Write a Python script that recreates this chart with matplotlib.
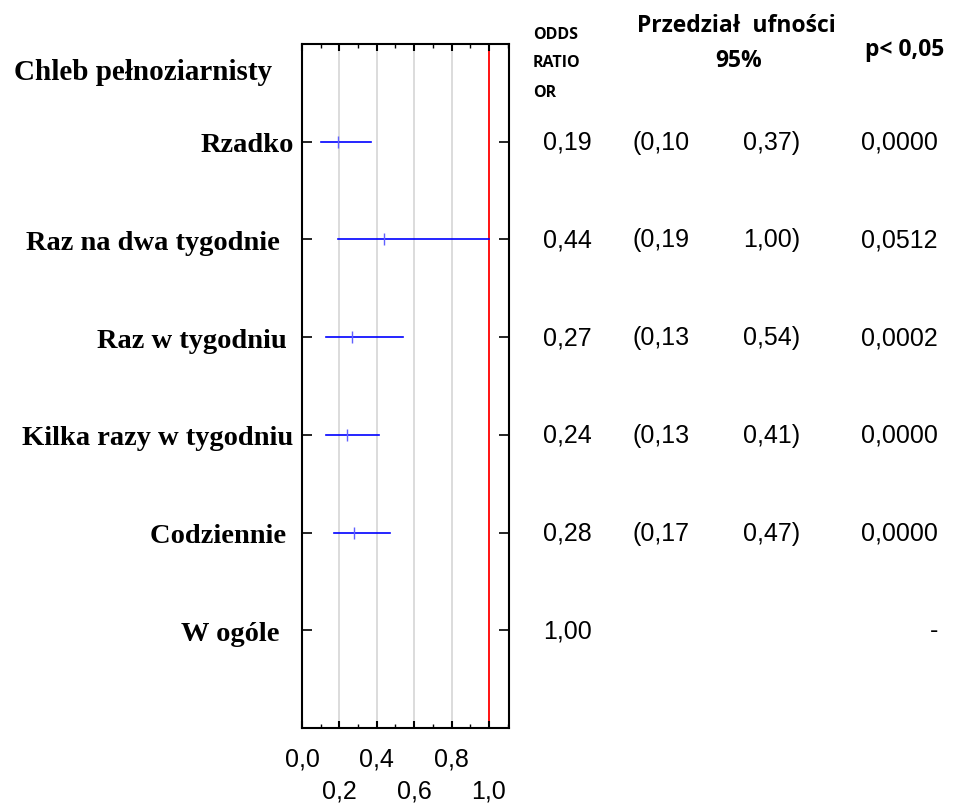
"""Forest plot: odds ratios for wholegrain bread consumption."""

import matplotlib
matplotlib.use("Agg")
import matplotlib.pyplot as plt

# data
categories = ["Rzadko", "Raz na dwa tygodnie  ", "Raz w tygodniu ",
              "Kilka razy w tygodniu", "Codziennie ", "W ogóle  "]
odds = [0.19, 0.44, 0.27, 0.24, 0.28, 1.00]
ci_low = [0.10, 0.19, 0.13, 0.13, 0.17, None]
ci_high = [0.37, 1.00, 0.54, 0.41, 0.47, None]
p_vals = ["0,0000", "0,0512", "0,0002", "0,0000", "0,0000", "-"]
xticks_top = [0.0, 0.4, 0.8]
xticks_bot = [0.2, 0.6, 1.0]

SERIF = "Liberation Serif"
SANS = "Liberation Sans"
HEAD = "Open Sans"
NUM_FS = 18


def fmt(v, nd=2):
    return f"{v:.{nd}f}".replace(".", ",")


fig = plt.figure(figsize=(9.54, 8.04), dpi=100)
ax = fig.add_axes([302 / 954, 75 / 804, 207 / 954, 684 / 804])

n = len(categories)
ax.set_xlim(0, 1.107)
ax.set_ylim(n, -1)

for x in [0.2, 0.4, 0.6, 0.8]:
    ax.axvline(x, color="#d9d9d9", lw=1.3, zorder=0)
ax.axvline(1.0, color="red", lw=1.3, zorder=1)

for i in range(n):
    if ci_low[i] is None:
        continue
    ax.plot([ci_low[i], ci_high[i]], [i, i], color="blue", lw=1.2, zorder=2)
    ax.plot(odds[i], i, marker="|", ms=8, mew=1.0, color="#6060ff", zorder=3)

# axes styling
for s in ax.spines.values():
    s.set_linewidth(1.5)
ax.set_yticks(range(n))
ax.set_yticklabels(categories, fontfamily=SERIF, fontweight="bold", fontsize=20.5)
ax.tick_params(axis="y", direction="in", length=7, width=1.2, left=True, right=True, pad=6)
ax.set_xticks([i / 10 for i in range(0, 12)], minor=True)
ax.set_xticks([0.0, 0.2, 0.4, 0.6, 0.8, 1.0])
ax.set_xticklabels([])
ax.tick_params(axis="x", which="major", direction="in", length=5, width=1.5, top=True, bottom=True)
ax.tick_params(axis="x", which="minor", direction="in", length=3, width=1.0, top=True, bottom=True)

# staggered x tick labels
for x in xticks_top:
    ax.annotate(fmt(x, 1), (x, 0), xycoords=("data", "axes fraction"), xytext=(0, -38),
                textcoords="offset pixels", ha="center", va="baseline",
                fontfamily=SANS, fontsize=NUM_FS)
for x in xticks_bot:
    ax.annotate(fmt(x, 1), (x, 0), xycoords=("data", "axes fraction"), xytext=(0, -70),
                textcoords="offset pixels", ha="center", va="baseline",
                fontfamily=SANS, fontsize=NUM_FS)

fig.text(14 / 954, 1 - 73 / 804, "Chleb pełnoziarnisty", fontfamily=SERIF,
         fontweight="bold", fontsize=21, va="center", ha="left")

# table columns
for i in range(n):
    y = i
    ax.annotate(fmt(odds[i]), (1, y), xycoords=("axes fraction", "data"), xytext=(34, 0),
                textcoords="offset pixels", va="center", ha="left", fontfamily=SANS, fontsize=NUM_FS)
    if ci_low[i] is not None:
        ax.annotate("(" + fmt(ci_low[i]), (1, y), xycoords=("axes fraction", "data"),
                    xytext=(124, 0), textcoords="offset pixels", va="center", ha="left",
                    fontfamily=SANS, fontsize=NUM_FS)
        ax.annotate(fmt(ci_high[i]) + ")", (1, y), xycoords=("axes fraction", "data"),
                    xytext=(234, 0), textcoords="offset pixels", va="center", ha="left",
                    fontfamily=SANS, fontsize=NUM_FS)
    ax.annotate(p_vals[i], (1, y), xycoords=("axes fraction", "data"), xytext=(429, 0),
                textcoords="offset pixels", va="center", ha="right", fontfamily=SANS, fontsize=NUM_FS)

# headers
fig.text(533 / 954, 1 - 35 / 804, "ODDS", fontfamily=HEAD, fontweight="bold", fontsize=11.5, va="center")
fig.text(533 / 954, 1 - 63 / 804, "RATIO", fontfamily=HEAD, fontweight="bold", fontsize=11.5, va="center")
fig.text(533 / 954, 1 - 93 / 804, "OR", fontfamily=HEAD, fontweight="bold", fontsize=11.5, va="center")
fig.text(736 / 954, 1 - 26 / 804, "Przedział  ufności", fontfamily=HEAD, fontweight="bold",
         fontsize=16.5, va="center", ha="center")
fig.text(739 / 954, 1 - 61 / 804, "95%", fontfamily=HEAD, fontweight="bold", fontsize=16.5,
         va="center", ha="center")
fig.text(905 / 954, 1 - 50 / 804, "p< 0,05", fontfamily=HEAD, fontweight="bold", fontsize=16.5,
         va="center", ha="center")

fig.savefig("out.png", dpi=100)
